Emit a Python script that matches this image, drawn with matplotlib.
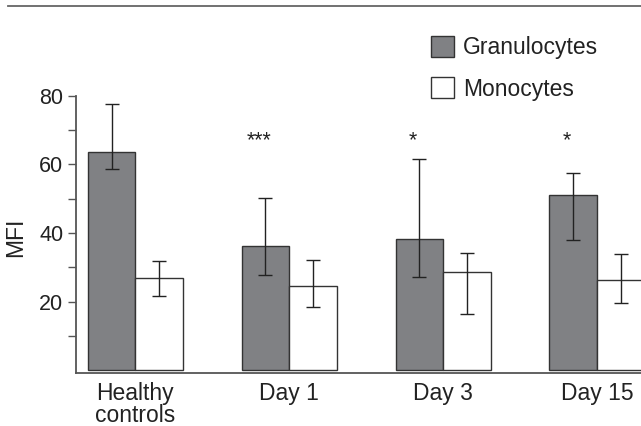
import matplotlib
matplotlib.use("Agg")
import matplotlib.pyplot as plt
import numpy as np
from matplotlib.lines import Line2D
from matplotlib.patches import Patch

plt.rcParams["font.family"] = ["Liberation Sans", "DejaVu Sans"]

# Datos (MFI)
grupos = ["Healthy\ncontrols", "Day 1", "Day 3", "Day 15"]
gran_media = [63.6, 36.1, 38.2, 51.1]
gran_sup = [77.7, 50.3, 61.5, 57.5]
gran_inf = [58.7, 27.8, 27.3, 37.9]
mono_media = [26.8, 24.5, 28.5, 26.3]
mono_sup = [31.7, 32.0, 34.3, 33.8]
mono_inf = [21.7, 18.5, 16.3, 19.6]
signif = ["", "***", "*", "*"]
signif_y = 65.3

GRIS = "#808184"
BORDE = "#333333"
TEXTO = "#222222"
EJE = "#555555"

x = np.arange(len(grupos))
w = 0.31

fig = plt.figure(figsize=(6.41, 4.26), dpi=100)
ax = fig.add_axes([76 / 641, 53.3 / 426, 1 - 76 / 641, (372.7 - 95.7) / 426])

err_g = [np.array(gran_media) - np.array(gran_inf), np.array(gran_sup) - np.array(gran_media)]
err_m = [np.array(mono_media) - np.array(mono_inf), np.array(mono_sup) - np.array(mono_media)]

ax.bar(x - w / 2, gran_media, w, color=GRIS, edgecolor=BORDE, linewidth=1.0, label="Granulocytes")
ax.bar(x + w / 2, mono_media, w, color="white", edgecolor=BORDE, linewidth=1.0, label="Monocytes")
ax.errorbar(x - w / 2, gran_media, yerr=err_g, fmt="none", ecolor=TEXTO, elinewidth=1.0, capsize=5, capthick=1.0)
ax.errorbar(x + w / 2, mono_media, yerr=err_m, fmt="none", ecolor=TEXTO, elinewidth=1.0, capsize=5, capthick=1.0)

for xi, s in zip(x, signif):
    if s:
        ax.text(xi - w / 2 - 0.04, signif_y, s, ha="center", va="baseline", fontsize=15.5, color=TEXTO)

ax.set_xlim(-0.386, 3.285)
ax.set_ylim(-0.7, 80)
ax.set_yticks(np.arange(10, 81, 10))
ax.set_yticklabels(["" if v % 20 else str(v) for v in range(10, 81, 10)])
ax.set_xticks(x)
ax.set_xticklabels(grupos, linespacing=0.9)
ax.tick_params(axis="y", length=5.5, width=1.0, color=EJE, pad=3.5, labelsize=15.5, labelcolor=TEXTO)
ax.tick_params(axis="x", length=0, pad=7, labelsize=16.5, labelcolor=TEXTO)

for lado in ["top", "right"]:
    ax.spines[lado].set_visible(False)
for lado in ["left", "bottom"]:
    ax.spines[lado].set_color(EJE)
    ax.spines[lado].set_linewidth(1.3)
ax.spines["left"].set_bounds(-0.7, 80)

ax.set_ylabel("MFI", fontsize=16.5, color=TEXTO)
ax.yaxis.set_label_coords(-0.087, 0.49)

handles = [
    Patch(facecolor=GRIS, edgecolor=BORDE, linewidth=1.0),
    Patch(facecolor="white", edgecolor=BORDE, linewidth=1.0),
]
fig.legend(
    handles,
    ["Granulocytes", "Monocytes"],
    loc="upper left",
    bbox_to_anchor=(431 / 641, 1 - 36 / 426),
    frameon=False,
    fontsize=16.5,
    handlelength=1.0,
    handleheight=1.0,
    handletextpad=0.4,
    labelspacing=0.8,
    borderpad=0,
    borderaxespad=0,
    labelcolor=TEXTO,
)

fig.add_artist(Line2D([8 / 641, 1], [1 - 6 / 426] * 2, color="#666666", linewidth=1.3))

fig.savefig("out.png", dpi=100)
